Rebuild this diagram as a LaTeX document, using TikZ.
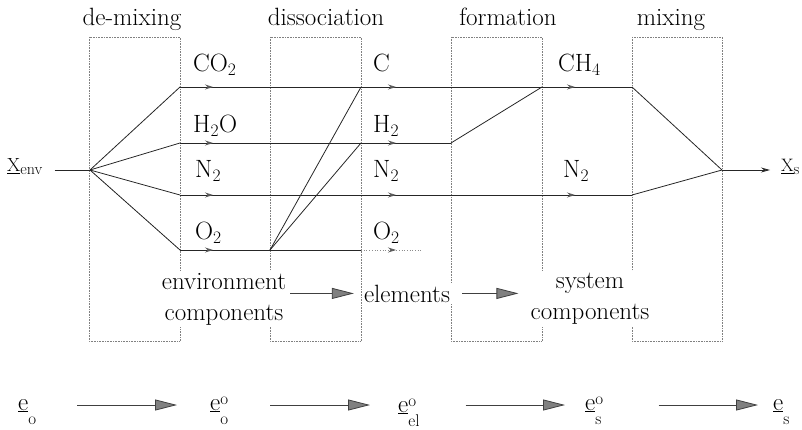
\documentclass[tikz,border=0pt]{standalone}
\usetikzlibrary{arrows.meta,decorations.markings}
\newcommand\exsym[2]{\underline{e}\makebox[0pt][l]{\raisebox{6pt}{\fontsize{17}{17}\selectfont #1}}\raisebox{-14pt}{\fontsize{17}{17}\selectfont #2}}
\newcommand\xsym[1]{\underline{X}\raisebox{-3pt}{\fontsize{16}{16}\selectfont #1}}
\begin{document}
\begin{tikzpicture}[x=1pt,y=-1pt,
  every node/.style={inner sep=0pt, font=\fontsize{25}{31}\selectfont},
  dotbox/.style={draw=black!50, densely dotted, line width=0.6pt},
  flowline/.style={draw=black!85, line width=0.8pt},
  fl/.style={flowline, postaction={decorate}, decoration={markings,
     mark=at position #1 with {\arrow[black!65]{Stealth[length=8pt,width=5pt]}}}},
  fadeline/.style={draw=black!45, line width=0.7pt, dotted, postaction={decorate}, decoration={markings,
     mark=at position #1 with {\arrow[black!65,solid]{Stealth[length=8pt,width=5pt]}}}},
  bigarr/.style={draw=black!75, line width=0.8pt, -{Triangle[length=22pt,width=11pt,fill=black!50]}},
  title/.style={anchor=base},
  spec/.style={anchor=base west},
  midtext/.style={align=center, fill=white, inner sep=2pt},
  smalllbl/.style={anchor=base west, font=\fontsize{19}{21}\selectfont}
]
\useasboundingbox (0,0) rectangle (802,430);

% process boxes
\draw[dotbox] (89,37) rectangle (180,341);
\draw[dotbox] (270,37) rectangle (361,341);
\draw[dotbox] (451,37) rectangle (542,341);
\draw[dotbox] (632,37) rectangle (722,341);

% titles
\node[title] (t1) at (132,26) {de-mixing};
\node[title] (t2) at (326,26) {dissociation};
\node[title] (t3) at (508,26) {formation};
\node[title] (t4) at (671,26) {mixing};

% junction points
\coordinate (env) at (90,170);
\coordinate (a1) at (180,87);
\coordinate (a2) at (180,143);
\coordinate (a3) at (180,195);
\coordinate (a4) at (180,250);
\coordinate (d4) at (270,250);
\coordinate (b1) at (361,87);
\coordinate (b2) at (361,143);
\coordinate (b3) at (361,195);
\coordinate (b4) at (361,250);
\coordinate (o2e) at (422,250);
\coordinate (f2) at (451,143);
\coordinate (f1) at (542,87);
\coordinate (f3) at (542,195);
\coordinate (m1) at (632,87);
\coordinate (m3) at (632,195);
\coordinate (sx) at (722,170);

% outer labels
\node[smalllbl] (xenv) at (7,172) {\xsym{env}};
\node[smalllbl, font=\fontsize{18}{20}\selectfont] (xs) at (781,172) {\xsym{s}};

% flows
\draw[flowline, shorten <=12pt] (xenv.east |- env) -- (env);
\draw[flowline] (env) -- (a1);
\draw[flowline] (env) -- (a2);
\draw[flowline] (env) -- (a3);
\draw[flowline] (env) -- (a4);
\draw[fl=33pt] (a1) -- (b1);
\draw[fl=33pt] (a2) -- (b2);
\draw[fl=33pt] (a3) -- (b3);
\draw[fl=33pt] (a4) -- (d4);
\draw[flowline] (d4) -- (b4);
\draw[flowline] (d4) -- (b1);
\draw[flowline] (d4) -- (b2);
\draw[fl=35pt] (b1) -- (f1);
\draw[fl=35pt] (b2) -- (f2);
\draw[flowline] (f2) -- (f1);
\draw[fl=35pt] (b3) -- (f3);
\draw[fadeline=35pt] (b4) -- (o2e);
\draw[fl=33pt] (f1) -- (m1);
\draw[fl=33pt] (f3) -- (m3);
\draw[flowline] (m1) -- (sx);
\draw[flowline] (m3) -- (sx);
\draw[flowline, -{Stealth[length=9pt,width=5pt,fill=black!60]}, shorten >=11pt] (sx) -- (xs.west |- sx);

% species labels
\node[spec] (co2) at (193,72) {CO\textsubscript{2}};
\node[spec] (h2o) at (193,133) {H\textsubscript{2}O};
\node[spec] (n2a) at (195,178) {N\textsubscript{2}};
\node[spec] (o2a) at (195,240) {O\textsubscript{2}};
\node[spec] (c) at (373,72) {C};
\node[spec] (h2) at (373,133) {H\textsubscript{2}};
\node[spec] (n2b) at (373,178) {N\textsubscript{2}};
\node[spec] (o2b) at (373,240) {O\textsubscript{2}};
\node[spec] (ch4) at (558,72) {CH\textsubscript{4}};
\node[spec] (n2c) at (563,178) {N\textsubscript{2}};

% stage texts
\node[midtext] (envc) at (224,299) {environment\\components};
\node[midtext, anchor=base] (elem) at (407,302) {elements};
\node[midtext] (sysc) at (590,299) {system\\components};
\draw[bigarr, shorten <=2pt, shorten >=8pt] (envc.east |- elem.center) -- (elem.west);
\draw[bigarr, shorten <=10pt, shorten >=10pt] (elem.east) -- (sysc.west |- elem.center);

% exergy row
\coordinate (arow) at (0,405);
\node[anchor=base west] (e0) at (18,410) {\exsym{}{o}};
\node[anchor=base west] (e1) at (210,410) {\exsym{o}{o}};
\node[anchor=base west] (e2) at (398,412) {\exsym{o}{el}};
\node[anchor=base west] (e3) at (585,410) {\exsym{o}{s}};
\node[anchor=base west] (e4) at (773,410) {\exsym{}{s}};
\draw[bigarr, shorten <=41pt, shorten >=33pt] (e0.east |- arow) -- (e1.west |- arow);
\draw[bigarr, shorten <=42pt, shorten >=28pt] (e1.east |- arow) -- (e2.west |- arow);
\draw[bigarr, shorten <=46pt, shorten >=20pt] (e2.east |- arow) -- (e3.west |- arow);
\draw[bigarr, shorten <=57pt, shorten >=15pt] (e3.east |- arow) -- (e4.west |- arow);
\end{tikzpicture}
\end{document}
